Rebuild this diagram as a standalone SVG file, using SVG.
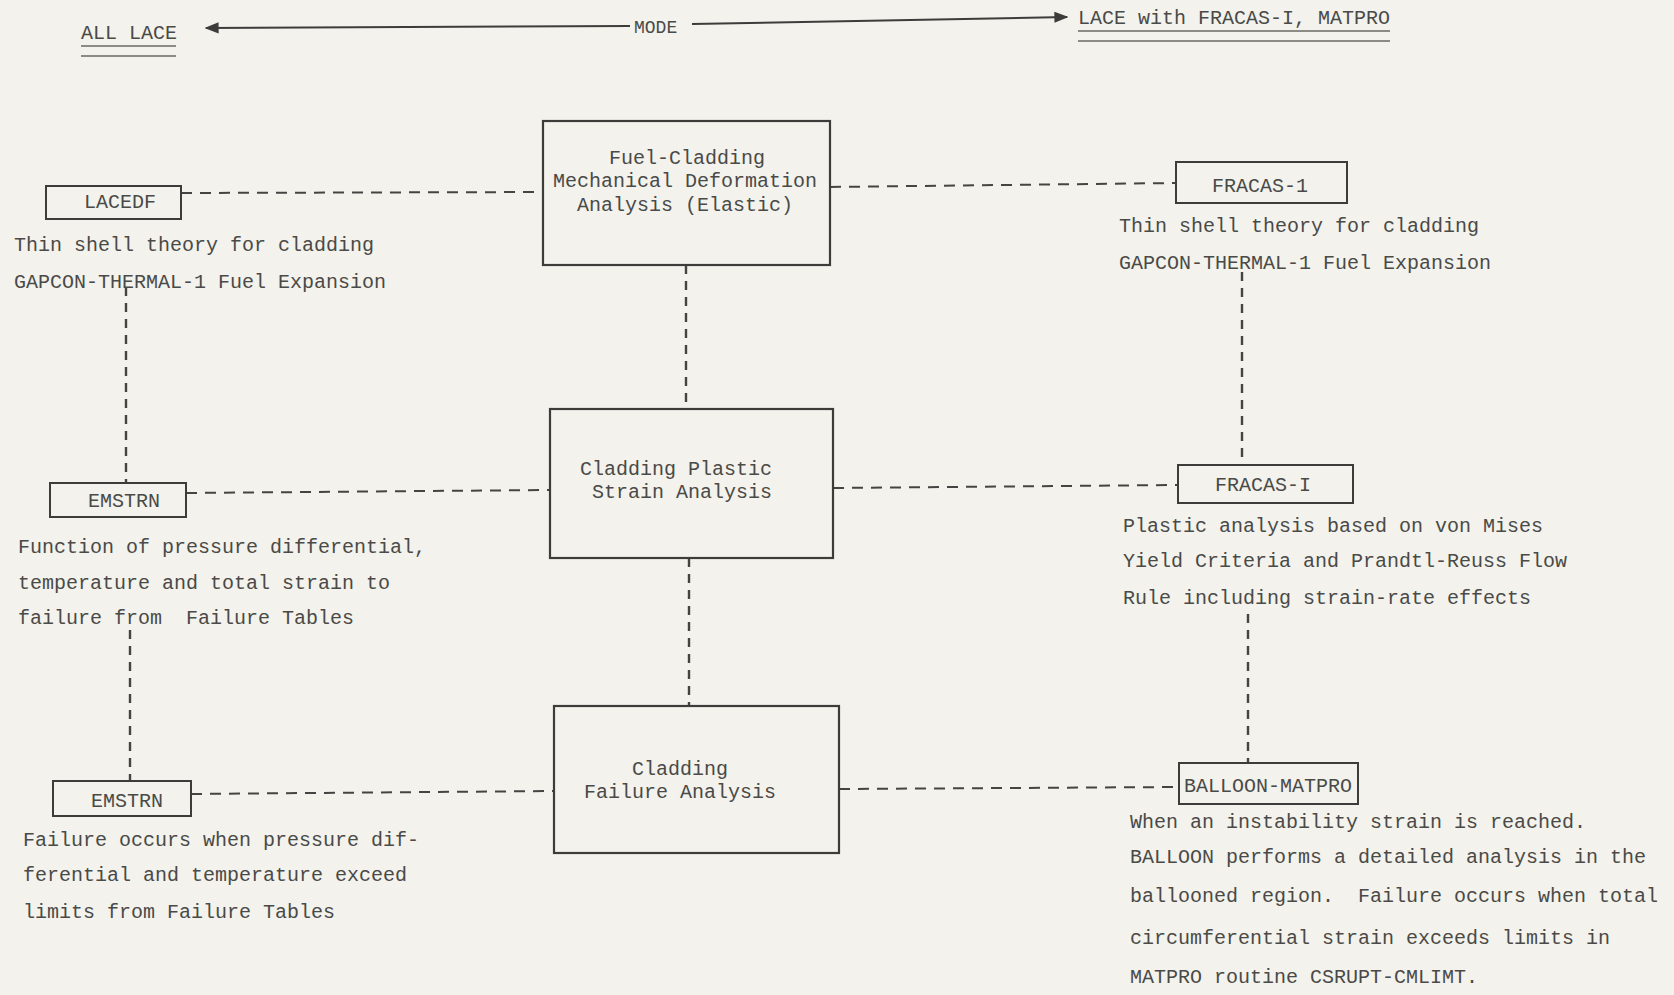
<svg xmlns="http://www.w3.org/2000/svg" width="1674" height="995" viewBox="0 0 1674 995">
<style>
.bg{fill:#f3f2ec}
.t{font-family:"Liberation Mono","DejaVu Sans Mono",monospace;font-size:20px;fill:#4a4a48;white-space:pre}
.c{text-anchor:middle}
.box{fill:none;stroke:#3c3c3a;stroke-width:2.2}
.sbox{fill:none;stroke:#3c3c3a;stroke-width:2}
.dash{fill:none;stroke:#444442;stroke-width:2;stroke-dasharray:11 8}
.vdash{fill:none;stroke:#444442;stroke-width:2.4;stroke-dasharray:9 7}
.ul{stroke:#6a6a66;stroke-width:1.5;fill:none}
.arr{stroke:#3c3c3a;stroke-width:2;fill:none}
</style>
<defs>
<marker id="ah" viewBox="0 0 10 10" refX="9" refY="5" markerWidth="7" markerHeight="7" orient="auto-start-reverse">
<path d="M0,1 L10,5 L0,9 z" fill="#3c3c3a"/>
</marker>
</defs>
<rect class="bg" x="0" y="0" width="1674" height="995"/>

<g id="mode-header">
<text class="t" x="81" y="39">ALL LACE</text>
<line class="ul" x1="81" y1="46" x2="176" y2="46"/>
<line class="ul" x1="81" y1="56" x2="176" y2="56"/>
<line class="arr" x1="630" y1="26" x2="206" y2="28" marker-end="url(#ah)"/>
<text class="t" x="634" y="33" style="font-size:18px">MODE</text>
<line class="arr" x1="692" y1="24" x2="1067" y2="17" marker-end="url(#ah)"/>
<text class="t" x="1078" y="24">LACE with FRACAS-I, MATPRO</text>
<line class="ul" x1="1078" y1="31" x2="1390" y2="31"/>
<line class="ul" x1="1078" y1="41" x2="1390" y2="41"/>
</g>

<g id="connectors">
<line class="dash" x1="181" y1="193" x2="543" y2="192"/>
<line class="dash" x1="830" y1="187" x2="1176" y2="183"/>
<line class="vdash" x1="686" y1="265" x2="686" y2="409"/>
<line class="dash" x1="186" y1="493" x2="550" y2="490"/>
<line class="dash" x1="833" y1="488" x2="1178" y2="485"/>
<line class="vdash" x1="689" y1="558" x2="689" y2="706"/>
<line class="dash" x1="191" y1="794" x2="554" y2="791"/>
<line class="dash" x1="839" y1="789" x2="1179" y2="787"/>
<line class="vdash" x1="126" y1="287" x2="126" y2="483"/>
<line class="vdash" x1="130" y1="630" x2="130" y2="781"/>
<line class="vdash" x1="1242" y1="272" x2="1242" y2="465"/>
<line class="vdash" x1="1248" y1="614" x2="1248" y2="763"/>
</g>

<g id="box-elastic">
<rect class="box" x="543" y="121" width="287" height="144"/>
<text class="t c" x="687" y="164">Fuel-Cladding</text>
<text class="t c" x="685" y="187">Mechanical Deformation</text>
<text class="t c" x="685" y="211">Analysis (Elastic)</text>
</g>

<g id="box-plastic">
<rect class="box" x="550" y="409" width="283" height="149"/>
<text class="t c" x="676" y="475">Cladding Plastic</text>
<text class="t c" x="682" y="498">Strain Analysis</text>
</g>

<g id="box-failure">
<rect class="box" x="554" y="706" width="285" height="147"/>
<text class="t c" x="680" y="775">Cladding</text>
<text class="t c" x="680" y="798">Failure Analysis</text>
</g>

<g id="lacedf">
<rect class="sbox" x="46" y="186" width="135" height="33"/>
<text class="t c" x="120" y="208">LACEDF</text>
<text class="t" x="14" y="251">Thin shell theory for cladding</text>
<text class="t" x="14" y="288">GAPCON-THERMAL-1 Fuel Expansion</text>
</g>

<g id="emstrn-1">
<rect class="sbox" x="50" y="483" width="136" height="34"/>
<text class="t c" x="124" y="507">EMSTRN</text>
<text class="t" x="18" y="553">Function of pressure differential,</text>
<text class="t" x="18" y="589">temperature and total strain to</text>
<text class="t" x="18" y="624">failure from  Failure Tables</text>
</g>

<g id="emstrn-2">
<rect class="sbox" x="53" y="781" width="138" height="35"/>
<text class="t c" x="127" y="807">EMSTRN</text>
<text class="t" x="23" y="846">Failure occurs when pressure dif-</text>
<text class="t" x="23" y="881">ferential and temperature exceed</text>
<text class="t" x="23" y="918">limits from Failure Tables</text>
</g>

<g id="fracas-1">
<rect class="sbox" x="1176" y="162" width="171" height="41"/>
<text class="t c" x="1260" y="192">FRACAS-1</text>
<text class="t" x="1119" y="232">Thin shell theory for cladding</text>
<text class="t" x="1119" y="269">GAPCON-THERMAL-1 Fuel Expansion</text>
</g>

<g id="fracas-i">
<rect class="sbox" x="1178" y="465" width="175" height="38"/>
<text class="t c" x="1263" y="491">FRACAS-I</text>
<text class="t" x="1123" y="532">Plastic analysis based on von Mises</text>
<text class="t" x="1123" y="567">Yield Criteria and Prandtl-Reuss Flow</text>
<text class="t" x="1123" y="604">Rule including strain-rate effects</text>
</g>

<g id="balloon-matpro">
<rect class="sbox" x="1179" y="763" width="179" height="41"/>
<text class="t c" x="1268" y="792">BALLOON-MATPRO</text>
<text class="t" x="1130" y="828">When an instability strain is reached.</text>
<text class="t" x="1130" y="863">BALLOON performs a detailed analysis in the</text>
<text class="t" x="1130" y="902">ballooned region.  Failure occurs when total</text>
<text class="t" x="1130" y="944">circumferential strain exceeds limits in</text>
<text class="t" x="1130" y="983">MATPRO routine CSRUPT-CMLIMT.</text>
</g>
</svg>
